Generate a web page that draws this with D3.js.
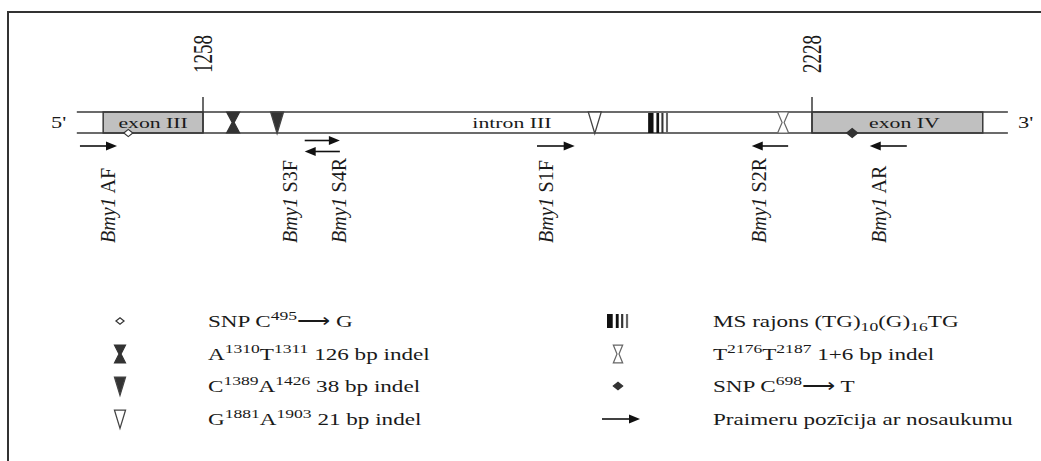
<!DOCTYPE html>
<html><head><meta charset="utf-8">
<script src="https://cdn.jsdelivr.net/npm/d3@7"></script>
<style>body{margin:0;background:#fff}svg{display:block}</style></head>
<body>
<script>
// ---------- data ----------
const tickPositions = [1258, 2228];
const geneStart = 1057, geneEnd = 2540;
const exonNames = ["exon III", "exon IV"];
const exonStarts = [1099, 2228];
const exonEnds = [1258, 2500];
const intronName = "intron III";
const intronLabelPos = 1750;
const markerTypes = ["openDiamond", "darkHourglass", "filledTriangle", "openTriangle", "ms", "openHourglass", "filledDiamond"];
const markerPositions = [1139, 1306, 1376, 1882, 1967, 2182, 2292];
const msRegionEnd = 2000;
const primerNames = ["AF", "S3F", "S4R", "S1F", "S2R", "AR"];
const primerStarts = [1062, 1420, 1420, 1790, 2132, 2320];
const primerEnds = [1121, 1476, 1476, 1850, 2190, 2379];
const primerDirections = ["F", "F", "R", "F", "R", "R"];
const primerLanes = [0, -1, 1, 0, 0, 0];
const primerLabelPos = [1107, 1397, 1476, 1806, 2145, 2336];
const legendLeftSymbols = ["openDiamond", "darkHourglass", "filledTriangle", "openTriangle"];
const legendLeftTexts = [
  ["SNP C", ["495", "sup"], "\u27F6 G"],
  ["A", ["1310", "sup"], "T", ["1311", "sup"], " 126 bp indel"],
  ["C", ["1389", "sup"], "A", ["1426", "sup"], " 38 bp indel"],
  ["G", ["1881", "sup"], "A", ["1903", "sup"], " 21 bp indel"]
];
const legendRightSymbols = ["ms", "openHourglass", "filledDiamond", "arrow"];
const legendRightTexts = [
  ["MS rajons (TG)", ["10", "sub"], "(G)", ["16", "sub"], "TG"],
  ["T", ["2176", "sup"], "T", ["2187", "sup"], " 1+6 bp indel"],
  ["SNP C", ["698", "sup"], "\u27F6 T"],
  ["Praimeru poz\u012bcija ar nosaukumu"]
];

// ---------- setup ----------
const W = 1041, H = 461;
const svg = d3.select("body").append("svg").attr("width", W).attr("height", H);
const x = d3.scaleLinear().domain(tickPositions).range([203, 812]);
const yTop = 112, yBot = 133, tickTop = 97;
const ink = "#3a3a3a";
const serif = "'Liberation Serif','Times New Roman',serif";

// frame
svg.append("rect").attr("x", 8).attr("y", 12).attr("width", 1100).attr("height", 500)
  .attr("fill", "none").attr("stroke", "#333").attr("stroke-width", 2);

function hText(g, px, py, parts, size, anchor, sx) {
  const t = g.append("text").attr("transform", `translate(${px},${py}) scale(${sx || 1.36},1)`)
    .attr("font-family", serif).attr("font-size", size).attr("fill", "#1a1a1a")
    .attr("text-anchor", anchor || "start");
  let shift = 0;
  parts.forEach(p => {
    if (typeof p === "string") {
      t.append("tspan").attr("dy", -shift).attr("font-size", size).text(p);
      shift = 0;
    } else {
      const s = p[1] === "sup" ? -size * 0.4 : size * 0.25;
      t.append("tspan").attr("dy", s - shift).attr("font-size", size * 0.76).text(p[0]);
      shift = s;
    }
  });
  return t;
}

// ---------- gene bar ----------
const gene = svg.append("g");
exonStarts.forEach((s, i) => {
  gene.append("rect").attr("x", x(s)).attr("y", yTop).attr("width", x(exonEnds[i]) - x(s))
    .attr("height", yBot - yTop).attr("fill", "#c0c0c0").attr("stroke", ink).attr("stroke-width", 1.5);
});
[yTop, yBot].forEach(yy => gene.append("line").attr("x1", x(geneStart)).attr("x2", x(geneEnd))
  .attr("y1", yy).attr("y2", yy).attr("stroke", ink).attr("stroke-width", 1.5));
tickPositions.forEach(t => {
  gene.append("line").attr("x1", x(t)).attr("x2", x(t)).attr("y1", tickTop).attr("y2", yBot)
    .attr("stroke", ink).attr("stroke-width", 1.5);
  gene.append("text").attr("transform", `translate(${x(t)},73) scale(1.42,1) rotate(-90)`)
    .attr("dy", "0.35em").attr("font-family", serif).attr("font-size", 19).attr("fill", "#1a1a1a").text(t);
});
exonNames.forEach((n, i) => hText(gene, (x(exonStarts[i]) + x(exonEnds[i])) / 2 + (i ? 7 : 0), 128, [n], 15, "middle", 1.45));
hText(gene, x(intronLabelPos), 128, [intronName], 15, "middle", 1.45);
hText(svg, 51, 128, ["5'"], 16, "start", 1.4);
hText(svg, 1018, 128, ["3'"], 16, "start", 1.4);

// ---------- symbols ----------
function drawSymbol(g, type, cx, cy, s) {
  if (type === "openDiamond" || type === "filledDiamond") {
    const r = type === "openDiamond" ? 4.5 * s : 5.5 * s;
    g.append("path").attr("d", `M${cx - r},${cy}L${cx},${cy - r * 0.8}L${cx + r},${cy}L${cx},${cy + r * 0.8}Z`)
      .attr("fill", type === "openDiamond" ? "#fff" : "#333").attr("stroke", "#333").attr("stroke-width", 1.2);
  } else if (type === "darkHourglass" || type === "openHourglass") {
    const w = (type === "darkHourglass" ? 6.5 : 5.5) * s, h = 10.5 * s;
    g.append("path").attr("d", `M${cx - w},${cy - h}L${cx + w},${cy - h}L${cx + 1},${cy}L${cx + w},${cy + h}L${cx - w},${cy + h}L${cx - 1},${cy}Z`)
      .attr("fill", type === "darkHourglass" ? "#333" : "#fff").attr("stroke", type === "darkHourglass" ? "#333" : "#666").attr("stroke-width", 1.2);
  } else if (type === "filledTriangle" || type === "openTriangle") {
    const w = 6.5 * s, h = 21.5 * s;
    const top = cy - 10.5 * s;
    g.append("path").attr("d", `M${cx - w},${top}L${cx + w},${top}L${cx},${top + h}Z`)
      .attr("fill", type === "filledTriangle" ? "#333" : "#fff").attr("stroke", "#444").attr("stroke-width", 1.3);
  } else if (type === "arrow") {
    drawArrow(g, cx - 19, cx + 19, cy, "F");
  }
}
function drawMS(g, x0, x1, y0, y1) {
  const w = x1 - x0;
  const bars = [[0, 0.26, "#111"], [0.4, 0.13, "#111"], [0.64, 0.1, "#333"], [0.86, 0.1, "#666"]];
  bars.forEach(b => g.append("rect").attr("x", x0 + b[0] * w).attr("y", y0).attr("width", b[1] * w)
    .attr("height", y1 - y0).attr("fill", b[2]));
}
function drawArrow(g, xa, xb, yy, dir) {
  const hl = 11, hw = 4.5;
  if (dir === "F") {
    g.append("line").attr("x1", xa).attr("x2", xb - hl + 1).attr("y1", yy).attr("y2", yy).attr("stroke", "#111").attr("stroke-width", 1.6);
    g.append("path").attr("d", `M${xb},${yy}L${xb - hl},${yy - hw}L${xb - hl},${yy + hw}Z`).attr("fill", "#111");
  } else {
    g.append("line").attr("x1", xa + hl - 1).attr("x2", xb).attr("y1", yy).attr("y2", yy).attr("stroke", "#111").attr("stroke-width", 1.6);
    g.append("path").attr("d", `M${xa},${yy}L${xa + hl},${yy - hw}L${xa + hl},${yy + hw}Z`).attr("fill", "#111");
  }
}

const marks = svg.append("g");
markerTypes.forEach((t, i) => {
  const px = x(markerPositions[i]);
  if (t === "ms") drawMS(marks, px, x(msRegionEnd), yTop + 1, yBot);
  else if (t === "openDiamond" || t === "filledDiamond") drawSymbol(marks, t, px, yBot, 1);
  else drawSymbol(marks, t, px, (yTop + yBot) / 2, 1);
});

// ---------- primers ----------
const prim = svg.append("g");
primerNames.forEach((n, i) => {
  drawArrow(prim, x(primerStarts[i]), x(primerEnds[i]), 146 + primerLanes[i] * 5.5, primerDirections[i]);
  const t = prim.append("text").attr("transform", `translate(${x(primerLabelPos[i])},243) rotate(-90)`)
    .attr("dy", "0.32em").attr("font-family", serif).attr("font-size", 20).attr("fill", "#1a1a1a");
  t.append("tspan").attr("font-style", "italic").text("Bmy1");
  t.append("tspan").text(" " + n);
});

// ---------- legend ----------
const leg = svg.append("g");
const rowY = [321, 354, 386, 419];
legendLeftSymbols.forEach((s, i) => {
  if (s === "openDiamond") drawSymbol(leg, s, 120, rowY[i], 0.9);
  else drawSymbol(leg, s, 120, rowY[i], 0.85);
  hText(leg, 208, rowY[i] + 6, legendLeftTexts[i], 17);
});
legendRightSymbols.forEach((s, i) => {
  if (s === "ms") drawMS(leg, 607, 629, rowY[i] - 7, rowY[i] + 7);
  else if (s === "filledDiamond") drawSymbol(leg, s, 618, rowY[i], 0.85);
  else if (s === "arrow") drawSymbol(leg, s, 621, rowY[i], 1);
  else drawSymbol(leg, s, 618, rowY[i], 0.85);
  hText(leg, 713, rowY[i] + 6, legendRightTexts[i], 17);
});
</script>
</body></html>
